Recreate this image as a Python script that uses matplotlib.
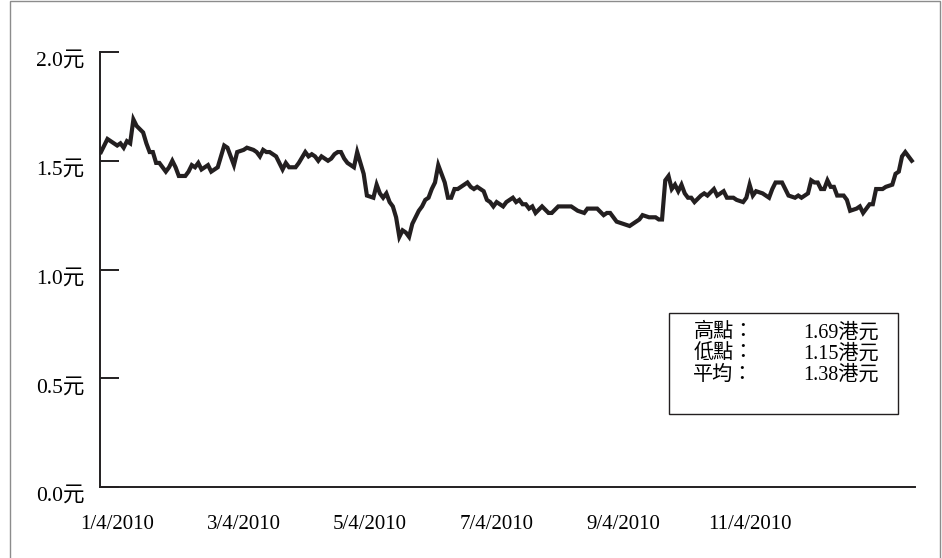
import numpy as np
import matplotlib
matplotlib.use('Agg')
import matplotlib.pyplot as plt
import matplotlib.patches as patches

plt.rcParams['font.family'] = ['Liberation Serif', 'Noto Sans CJK TC', 'DejaVu Sans']

# trading day index (0 = first trading day of 2010) and closing price (HK$)
days = [0, 2, 4, 5, 6, 7, 8, 9, 10, 11, 13, 14, 15, 16, 17, 18, 19, 20, 21, 22,
        23, 24, 26, 27, 28, 29, 30, 31, 33, 34, 35, 36, 37, 38, 39,
        41, 42, 44, 45, 47, 48, 49, 50, 51, 52, 54, 55, 56, 57, 58,
        60, 61, 63, 64, 65, 66, 67, 68, 70, 71, 72, 73, 74, 75, 76,
        78, 79, 81, 82, 84, 85, 86, 87, 88, 89, 90, 91, 92, 93, 94,
        95, 96, 98, 99, 100, 101, 102, 103, 104, 105, 106, 107, 108, 109, 110,
        112, 113, 114, 115, 116, 118, 119, 120, 121, 122, 124, 125, 126, 127, 128,
        129, 130, 131, 132, 133, 134, 136, 138, 139, 141, 142, 145, 146, 147, 149,
        150, 153, 155, 156, 157, 158, 159, 161, 163, 165, 166, 167, 169, 171, 172,
        173, 174, 175, 176, 177, 178, 179, 180, 181, 182, 183, 185, 186, 187, 189,
        190, 191, 192, 193, 195, 196, 198, 199, 200, 201, 202, 204, 206, 207, 208,
        210, 211, 212, 214, 215, 216, 218, 219, 220, 221, 222, 223, 224, 225, 226,
        227, 229, 230, 231, 233, 234, 235, 237, 238, 239, 241, 242, 244, 245, 246,
        247, 248, 249, 250]
prices = [1.54, 1.60, 1.58, 1.57, 1.58, 1.56, 1.59, 1.58, 1.69, 1.66, 1.63, 1.58, 1.54, 1.54, 1.49, 1.49, 1.47, 1.45, 1.47, 1.50,
          1.47, 1.43, 1.43, 1.45, 1.48, 1.47, 1.49, 1.46, 1.48, 1.45, 1.46, 1.47, 1.52, 1.57, 1.56,
          1.48, 1.54, 1.55, 1.56, 1.55, 1.54, 1.52, 1.55, 1.54, 1.54, 1.52, 1.49, 1.46, 1.49, 1.47,
          1.47, 1.49, 1.54, 1.52, 1.53, 1.52, 1.50, 1.52, 1.50, 1.51, 1.53, 1.54, 1.54, 1.51, 1.49,
          1.47, 1.54, 1.44, 1.34, 1.33, 1.39, 1.35, 1.33, 1.35, 1.31, 1.29, 1.24, 1.15, 1.18, 1.17,
          1.15, 1.21, 1.27, 1.29, 1.32, 1.33, 1.37, 1.40, 1.48, 1.44, 1.40, 1.33, 1.33, 1.37, 1.37,
          1.39, 1.40, 1.38, 1.37, 1.38, 1.36, 1.32, 1.31, 1.29, 1.31, 1.29, 1.31, 1.32, 1.33, 1.31,
          1.32, 1.30, 1.30, 1.28, 1.29, 1.26, 1.29, 1.26, 1.26, 1.29, 1.29, 1.29, 1.28, 1.27, 1.26,
          1.28, 1.28, 1.25, 1.26, 1.26, 1.24, 1.22, 1.21, 1.20, 1.22, 1.23, 1.25, 1.24, 1.24, 1.23,
          1.23, 1.41, 1.43, 1.37, 1.39, 1.36, 1.39, 1.35, 1.33, 1.33, 1.31, 1.34, 1.35, 1.34, 1.37,
          1.34, 1.35, 1.36, 1.33, 1.33, 1.32, 1.31, 1.33, 1.39, 1.34, 1.36, 1.35, 1.33, 1.37, 1.40,
          1.40, 1.37, 1.34, 1.33, 1.34, 1.33, 1.35, 1.41, 1.40, 1.40, 1.37, 1.37, 1.41, 1.38, 1.38,
          1.34, 1.34, 1.32, 1.27, 1.28, 1.29, 1.26, 1.30, 1.30, 1.37, 1.37, 1.38, 1.39, 1.44, 1.45,
          1.52, 1.54, 1.52, 1.50]

tick_days = [5, 44, 83, 122, 161, 200]
tick_dates = ['1/4/2010', '3/4/2010', '5/4/2010', '7/4/2010', '9/4/2010', '11/4/2010']
y_ticks = [0.0, 0.5, 1.0, 1.5, 2.0]
y_labels = ['0.0元', '0.5元', '1.0元', '1.5元', '2.0元']

stat_names = ['高點：', '低點：', '平均：']
stat_values = ['1.69港元', '1.15港元', '1.38港元']


def main():
	fig = plt.figure(figsize=(9.42, 5.58), dpi=100)
	ax = fig.add_axes([100/942, 1 - 487/558, 815/942, 435/558])

	ax.plot(days, prices, color='#231f20', linewidth=3.0, solid_joinstyle='miter')

	ax.set_xlim(-0.3, 251)
	ax.set_ylim(0, 2.0)
	ax.spines['top'].set_visible(False)
	ax.spines['right'].set_visible(False)
	ax.spines['left'].set_linewidth(1.4)
	ax.spines['bottom'].set_linewidth(1.4)
	ax.spines['left'].set_color('#231f20')
	ax.spines['bottom'].set_color('#231f20')

	ax.set_yticks(y_ticks)
	ax.set_yticklabels(y_labels)
	ax.tick_params(axis='y', direction='in', length=14, width=1.4, color='#231f20', pad=11, labelsize=15.5)
	plt.setp(ax.get_yticklabels(), va='top')
	ax.set_xticks(tick_days)
	ax.set_xticklabels(tick_dates)
	ax.tick_params(axis='x', length=0, pad=20, labelsize=15)

	# stats box
	box = patches.Rectangle((0.698, 0.168), 0.281, 0.232, transform=ax.transAxes,
		fill=False, edgecolor='#231f20', linewidth=1.0)
	ax.add_patch(box)
	for i in range(3):
		y = 0.355 - i * 0.049
		ax.text(0.728, y, stat_names[i], transform=ax.transAxes, fontsize=14.5, va='center', ha='left')
		ax.text(0.863, y, stat_values[i], transform=ax.transAxes, fontsize=14.5, va='center', ha='left')

	# outer frame
	frame = patches.Rectangle((10/942, -0.01), 930/942, 1.008, transform=fig.transFigure,
		fill=False, edgecolor='#8c8c8c', linewidth=1.0)
	fig.add_artist(frame)

	fig.savefig('out.png', dpi=100)


if __name__ == '__main__':
	main()
